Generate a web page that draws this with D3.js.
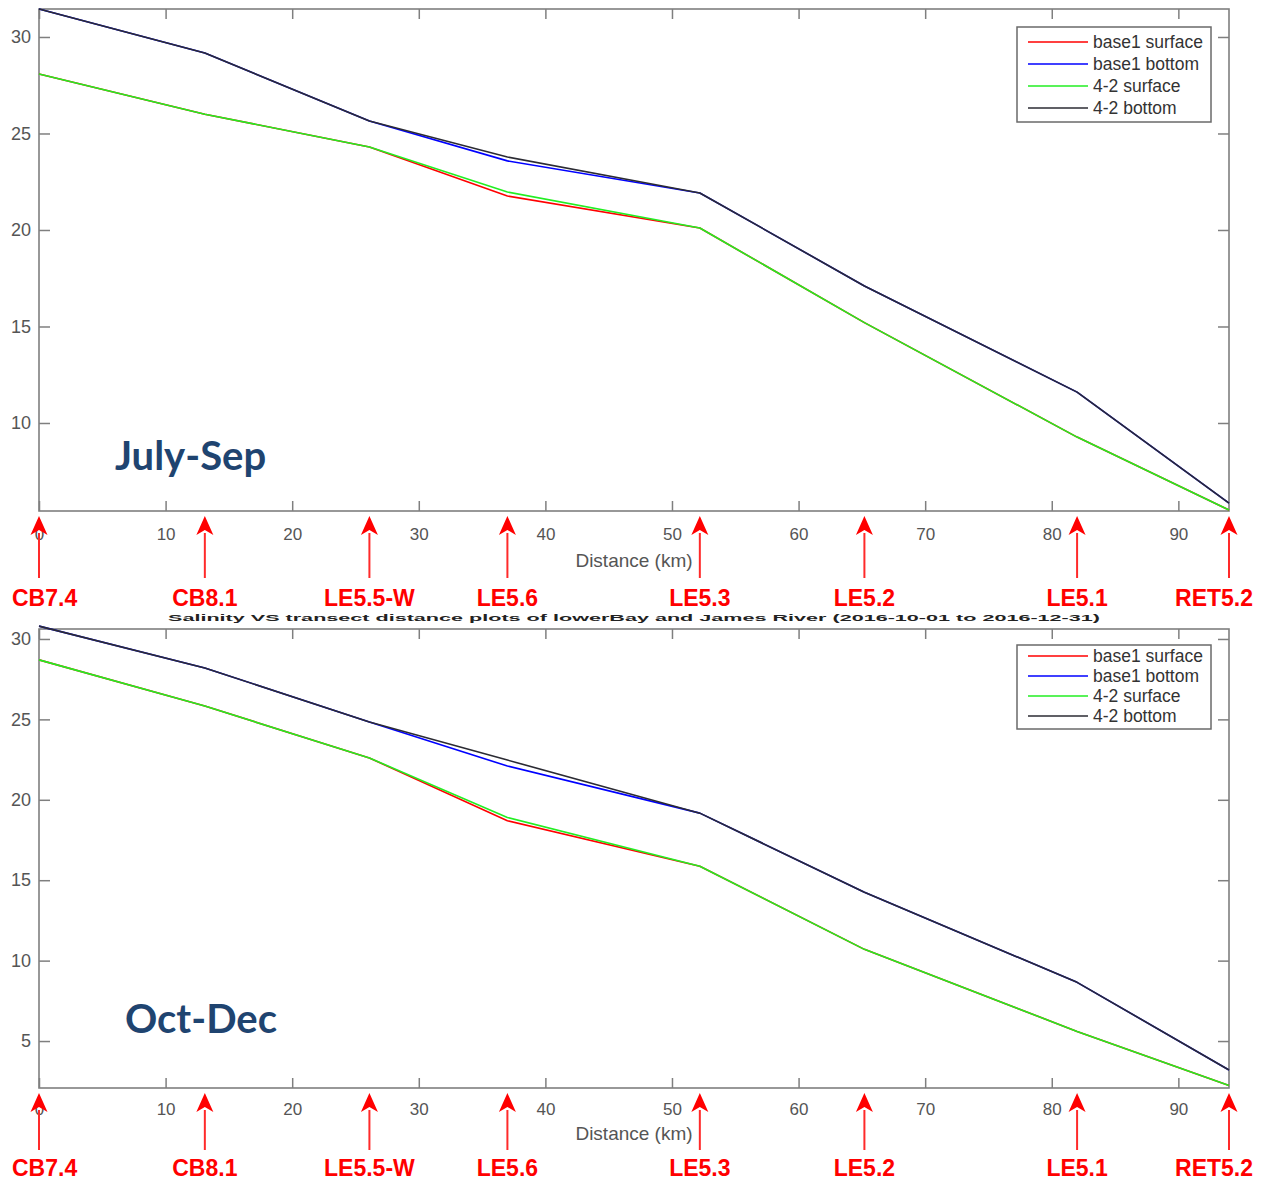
<!DOCTYPE html>
<html>
<head>
<meta charset="utf-8">
<script src="https://cdn.jsdelivr.net/npm/d3@7"></script>
<style>
  html, body { margin: 0; padding: 0; background: #fff; }
  svg { display: block; }
</style>
</head>
<body>
<svg id="chart" width="1265" height="1181"></svg>
<script>
// ---------------- DATA ----------------
const stations  = ["CB7.4", "CB8.1", "LE5.5-W", "LE5.6", "LE5.3", "LE5.2", "LE5.1", "RET5.2"];
const distances = [0, 13.1, 26.1, 37.0, 52.2, 65.2, 82.0, 94.0];

const seriesNames  = ["base1 surface", "base1 bottom", "4-2 surface", "4-2 bottom"];
const seriesColors = ["#ff0000", "#0000ff", "#22ee22", "#2b2b33"];

// July-Sep
const julSepBase1Surface = [28.08, 26.0, 24.3, 21.76, 20.1, 15.2, 9.27, 5.49];
const julSepBase1Bottom  = [31.45, 29.17, 25.65, 23.58, 21.92, 17.1, 11.6, 5.85];
const julSep42Surface    = [28.08, 26.0, 24.3, 21.97, 20.1, 15.2, 9.27, 5.49];
const julSep42Bottom     = [31.45, 29.17, 25.65, 23.78, 21.92, 17.1, 11.6, 5.85];

// Oct-Dec
const octDecBase1Surface = [28.7, 25.83, 22.6, 18.7, 15.87, 10.7, 5.6, 2.24];
const octDecBase1Bottom  = [30.8, 28.2, 24.84, 22.1, 19.17, 14.25, 8.65, 3.2];
const octDec42Surface    = [28.7, 25.83, 22.6, 18.9, 15.87, 10.7, 5.6, 2.24];
const octDec42Bottom     = [30.8, 28.2, 24.84, 22.47, 19.17, 14.25, 8.65, 3.2];

const xTicks = [0, 10, 20, 30, 40, 50, 60, 70, 80, 90];
const yTicksTop = [10, 15, 20, 25, 30];
const yTicksBottom = [5, 10, 15, 20, 25, 30];
const xLabel = "Distance (km)";
const hiddenTitle = "Salinity VS transect distance plots of lowerBay and James River (2016-10-01 to 2016-12-31)";

// ---------------- DRAWING ----------------
const svg = d3.select("#chart");
const AXIS = "#7f7f7f";
const TXT = "#555555";
const FONT = "'Liberation Sans', Arial, sans-serif";

const panels = [
  { title: "July-Sep", series: [julSepBase1Surface, julSepBase1Bottom, julSep42Surface, julSep42Bottom],
    yDomain: [5.44, 31.45], yTicks: yTicksTop,
    top: 9, bottom: 511, titlePos: [115, 470],
    legend: { x: 1017, y: 27, w: 194, h: 95, step: 22 },
    arrowTip: 516, arrowHeadBase: 535, arrowTail: 578, labelBase: 606,
    tickLabelBase: 540, xLabelBase: 567 },
  { title: "Oct-Dec", series: [octDecBase1Surface, octDecBase1Bottom, octDec42Surface, octDec42Bottom],
    yDomain: [2.08, 30.62], yTicks: yTicksBottom,
    top: 629, bottom: 1088, titlePos: [125, 1033],
    legend: { x: 1017, y: 645, w: 194, h: 84, step: 20 },
    arrowTip: 1093, arrowHeadBase: 1112, arrowTail: 1150, labelBase: 1176,
    tickLabelBase: 1115, xLabelBase: 1140 }
];

const left = 39, right = 1229;
const x = d3.scaleLinear().domain([0, 94]).range([left, right]);

// title of the second figure, mostly covered in the original: only a thin lower strip shows
svg.append("text")
  .attr("transform", "translate(168,621) scale(1,0.42)")
  .attr("x", 0).attr("y", 0)
  .attr("textLength", 932).attr("lengthAdjust", "spacingAndGlyphs")
  .attr("font-family", FONT).attr("font-size", 20).attr("font-weight", "bold")
  .attr("fill", "#222")
  .text(hiddenTitle);

panels.forEach((p, pi) => {
  const y = d3.scaleLinear().domain(p.yDomain).range([p.bottom, p.top]);
  const g = svg.append("g");

  // box
  g.append("rect")
    .attr("x", left).attr("y", p.top)
    .attr("width", right - left).attr("height", p.bottom - p.top)
    .attr("fill", "none").attr("stroke", AXIS).attr("stroke-width", 1.6);

  // bottom axis (inward ticks)
  const xb = g.append("g").attr("transform", `translate(0,${p.bottom})`)
    .call(d3.axisBottom(x).tickValues(xTicks).tickSizeInner(-10).tickSizeOuter(0).tickFormat(d3.format("d")));
  xb.select(".domain").remove();
  xb.selectAll(".tick line").attr("stroke", AXIS).attr("stroke-width", 1.5);
  xb.selectAll(".tick text").attr("fill", TXT).attr("font-family", FONT).attr("font-size", 17)
    .attr("y", p.tickLabelBase - p.bottom).attr("dy", 0);

  // top axis ticks (inward, no labels)
  const xt = g.append("g").attr("transform", `translate(0,${p.top})`)
    .call(d3.axisTop(x).tickValues(xTicks).tickSizeInner(-10).tickSizeOuter(0).tickFormat(""));
  xt.select(".domain").remove();
  xt.selectAll(".tick line").attr("stroke", AXIS).attr("stroke-width", 1.5);

  // left axis
  const yl = g.append("g").attr("transform", `translate(${left},0)`)
    .call(d3.axisLeft(y).tickValues(p.yTicks).tickSizeInner(-11).tickSizeOuter(0).tickPadding(8).tickFormat(d3.format("d")));
  yl.select(".domain").remove();
  yl.selectAll(".tick line").attr("stroke", AXIS).attr("stroke-width", 1.5);
  yl.selectAll(".tick text").attr("fill", TXT).attr("font-family", FONT).attr("font-size", 18)
    .attr("x", -8);

  // right axis ticks
  const yr = g.append("g").attr("transform", `translate(${right},0)`)
    .call(d3.axisRight(y).tickValues(p.yTicks).tickSizeInner(-11).tickSizeOuter(0).tickFormat(""));
  yr.select(".domain").remove();
  yr.selectAll(".tick line").attr("stroke", AXIS).attr("stroke-width", 1.5);

  // x label
  g.append("text")
    .attr("x", (left + right) / 2).attr("y", p.xLabelBase)
    .attr("text-anchor", "middle")
    .attr("font-family", FONT).attr("font-size", 19).attr("fill", TXT)
    .text(xLabel);

  // lines
  const line = d3.line().x((d, i) => x(distances[i])).y(d => y(d));
  p.series.forEach((s, si) => {
    g.append("path")
      .datum(s)
      .attr("d", line)
      .attr("fill", "none")
      .attr("stroke", seriesColors[si])
      .attr("stroke-width", 1.6)
      .attr("stroke-linejoin", "round");
  });

  // legend
  const L = p.legend;
  const lg = g.append("g");
  lg.append("rect").attr("x", L.x).attr("y", L.y).attr("width", L.w).attr("height", L.h)
    .attr("fill", "#fff").attr("stroke", "#6a6a6a").attr("stroke-width", 1.5);
  seriesNames.forEach((name, i) => {
    const cy = L.y + 15 + i * L.step - (pi === 1 ? 4 : 0);
    lg.append("line").attr("x1", L.x + 11).attr("x2", L.x + 71).attr("y1", cy).attr("y2", cy)
      .attr("stroke", seriesColors[i]).attr("stroke-width", 1.6);
    lg.append("text").attr("x", L.x + 76).attr("y", cy + 6)
      .attr("font-family", FONT).attr("font-size", 17.5).attr("fill", "#333")
      .text(name);
  });

  // season title
  g.append("text")
    .attr("x", p.titlePos[0]).attr("y", p.titlePos[1])
    .attr("font-family", "Lato, 'Open Sans', sans-serif").attr("font-weight", "bold")
    .attr("font-size", 40).attr("fill", "#1f4470")
    .text(p.title);

  // station arrows + labels
  stations.forEach((st, i) => {
    const ax = x(distances[i]);
    g.append("line").attr("x1", ax).attr("x2", ax)
      .attr("y1", p.arrowHeadBase - 2).attr("y2", p.arrowTail)
      .attr("stroke", "#ff2a2a").attr("stroke-width", 2);
    g.append("path")
      .attr("d", `M${ax},${p.arrowTip} L${ax - 8.5},${p.arrowHeadBase} L${ax},${p.arrowHeadBase - 5} L${ax + 8.5},${p.arrowHeadBase} Z`)
      .attr("fill", "#ff0000");
    const t = g.append("text")
      .attr("y", p.labelBase)
      .attr("text-anchor", "middle")
      .attr("font-family", FONT).attr("font-weight", "bold")
      .attr("font-size", 23).attr("fill", "#ff0000")
      .text(st);
    const w = t.node().getComputedTextLength();
    const cx = Math.max(12 + w / 2, Math.min(1253 - w / 2, ax));
    t.attr("x", cx);
  });
});
</script>
</body>
</html>
